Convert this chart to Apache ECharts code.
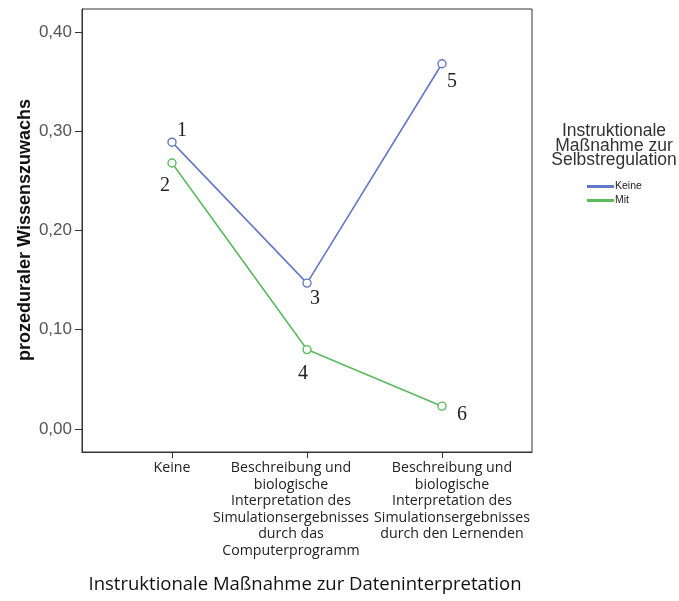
<!DOCTYPE html>
<html>
<head>
<meta charset="utf-8">
<script src="https://cdn.jsdelivr.net/npm/echarts@6/dist/echarts.min.js"></script>
<style>html,body{margin:0;padding:0;background:#fff}#c{width:679px;height:601px}</style>
</head>
<body>
<div id="c"></div>
<script>
// Data
var categories = [
  'Keine',
  'Beschreibung und\nbiologische\nInterpretation des\nSimulationsergebnisses\ndurch das\nComputerprogramm',
  'Beschreibung und\nbiologische\nInterpretation des\nSimulationsergebnisses\ndurch den Lernenden'
];
var seriesNames = ['Keine', 'Mit'];
var keineValues = [0.289, 0.147, 0.368];
var mitValues = [0.268, 0.080, 0.023];
var keineLabels = ['1', '3', '5'];
var mitLabels = ['2', '4', '6'];
var yTicks = [0, 0.1, 0.2, 0.3, 0.4];

// label offsets (styling)
var keineOffsets = [[10, -11], [8, 16], [10, 18]];
var mitOffsets = [[-7, 23], [-4, 24], [20, 9]];

var yMin = -0.0232, yMax = 0.4232;

function build(vals, labels, offsets) {
  return vals.map(function (v, i) {
    return {
      value: v,
      label: {
        show: true, position: 'inside', offset: offsets[i],
        formatter: labels[i],
        fontFamily: 'Liberation Serif, serif', fontSize: 20, color: '#222'
      }
    };
  });
}

var catFont = {fontFamily: 'Open Sans', fontSize: 14.2, lineHeight: 16.5, color: '#222'};
function richStyle(pad) {
  return Object.assign({padding: pad}, catFont);
}

var chart = echarts.init(document.getElementById('c'), null, {renderer: 'canvas'});
chart.setOption({
  animation: false,
  backgroundColor: '#fff',
  grid: [
    {left: 82, top: 9, right: 147, bottom: 149, show: true, borderColor: '#333', borderWidth: 1},
    {left: 172, top: 9, right: 237, bottom: 149}
  ],
  xAxis: [
    {gridIndex: 0, type: 'value', min: 0, max: 1,
     splitLine: {show: false}, axisTick: {show: false}, axisLabel: {show: false},
     axisLine: {show: true, onZero: false, lineStyle: {color: '#333'}}},
    {gridIndex: 1, type: 'category', data: categories, boundaryGap: false,
     splitLine: {show: false},
     axisLine: {show: false, onZero: false},
     axisTick: {show: true, alignWithLabel: true, interval: 0, length: 6, lineStyle: {color: '#333'}},
     axisLabel: Object.assign({
       interval: 0, margin: 8, hideOverlap: false, align: 'center',
       formatter: function (value, index) {
         return value.split('\n').map(function (l) { return '{s' + index + '|' + l + '}'; }).join('\n');
       },
       rich: {
         s0: richStyle([0, 0, 0, 0]),
         s1: richStyle([0, 32, 0, 0]),
         s2: richStyle([0, 0, 0, 20])
       }
     }, catFont)}
  ],
  yAxis: [
    {gridIndex: 0, type: 'value', min: yMin, max: yMax,
     splitLine: {show: false},
     axisLine: {show: true, onZero: false, lineStyle: {color: '#333'}},
     axisTick: {show: true, customValues: yTicks, length: 7, lineStyle: {color: '#333'}},
     axisLabel: {
       customValues: yTicks, margin: 10,
       formatter: function (v) { return v.toFixed(2).replace('.', ','); },
       fontFamily: 'Liberation Sans', fontSize: 17, color: '#555'
     }},
    {gridIndex: 1, type: 'value', min: yMin, max: yMax, show: false}
  ],
  legend: {
    orient: 'vertical', left: 582, top: 176, itemGap: 3,
    itemWidth: 25, itemHeight: 1, icon: 'rect',
    textStyle: {fontFamily: 'Liberation Sans', fontSize: 10.5, color: '#222', padding: [0, 0, 0, -3]},
    data: seriesNames
  },
  title: {
    text: 'Instruktionale Maßnahme zur Dateninterpretation',
    left: 300, top: 570, textAlign: 'center',
    textStyle: {fontFamily: 'Open Sans', fontSize: 18.5, fontWeight: 'normal', color: '#111'}
  },
  graphic: [
    {type: 'text', x: 25, y: 230, rotation: Math.PI / 2,
     style: {text: 'prozeduraler Wissenszuwachs', fill: '#111', font: 'bold 18px Liberation Sans', align: 'center', verticalAlign: 'middle'}},
    {type: 'text', x: 614, y: 146,
     style: {text: 'Instruktionale\nMaßnahme zur\nSelbstregulation', fill: '#333', font: '17.5px Liberation Sans', lineHeight: 14.5, align: 'center', verticalAlign: 'middle'}}
  ],
  series: [
    {name: seriesNames[0], type: 'line', xAxisIndex: 1, yAxisIndex: 1,
     data: build(keineValues, keineLabels, keineOffsets),
     color: '#6479c6', lineStyle: {width: 1.6, color: '#6479c6'},
     symbol: 'circle', symbolSize: 8, itemStyle: {color: '#fff', borderColor: '#6479c6', borderWidth: 1.4}},
    {name: seriesNames[1], type: 'line', xAxisIndex: 1, yAxisIndex: 1,
     data: build(mitValues, mitLabels, mitOffsets),
     color: '#5cba5c', lineStyle: {width: 1.6, color: '#5cba5c'},
     symbol: 'circle', symbolSize: 8, itemStyle: {color: '#fff', borderColor: '#5cba5c', borderWidth: 1.4}}
  ]
});
</script>
</body>
</html>
